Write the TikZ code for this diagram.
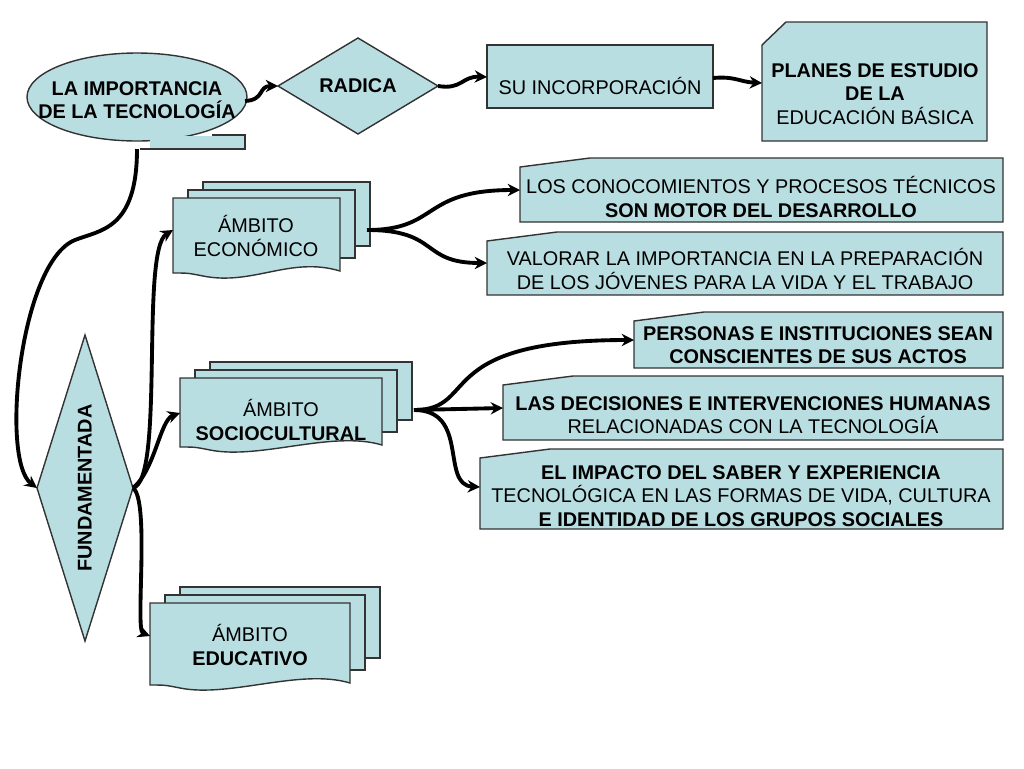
\documentclass[tikz,border=0pt]{standalone}
\usepackage{fontspec}
\setmainfont{Liberation Sans}
\usetikzlibrary{arrows.meta}
\definecolor{boxfill}{RGB}{185,222,226}
\tikzset{
  shp/.style={draw=black!80,fill=boxfill,line width=0.8pt},
  txt/.style={align=center,font=\fontsize{11.3}{13.2}\selectfont,inner sep=0pt},
  btxt/.style={txt,font=\fontsize{11.3}{13.2}\selectfont\bfseries},
  conn/.style={line width=2.2pt,-{Stealth[length=7pt,width=7pt]}}
}
% manual input box: x1,y1,x2,y2
\newcommand{\manbox}[4]{\draw[shp] (#1,#2+9) -- (#1+70,#2) -- (#3,#2) -- (#3,#4) -- (#1,#4) -- cycle;}
% stacked documents: x1,y1,x2,y2 of front
\newcommand{\docstack}[4]{
  \draw[shp] (#1+30,#2-16) rectangle (#3+30,#4-30);
  \draw[shp] (#1+15,#2-8) rectangle (#3+15,#4-18);
  \draw[shp] (#1,#2) -- (#3,#2) -- (#3,#4-5) .. controls (#3-50,#4-20) and (#1+80,#4+10) .. (#1+30,#4) .. controls (#1+15,#4-3) .. (#1,#4-3) -- cycle;}
\begin{document}
\begin{tikzpicture}[x=0.02cm,y=-0.02cm]
  \useasboundingbox (0,0) rectangle (1024,768);
  % top row
  \draw[shp] (137,97) ellipse (110 and 44);
  \fill[boxfill] (150,136) rectangle (244.6,148.6);
  \draw[black!80,line width=0.8pt] (212,135) -- (245,135) -- (245,149) -- (140,149);
  \node[btxt] (imp) at (137,100) {LA IMPORTANCIA\\DE LA TECNOLOGÍA};
  \coordinate (impR) at (245,101);
  \coordinate (impB) at (137,149);
  \draw[shp] (278,86) -- (358,38) -- (438,86) -- (358,134) -- cycle;
  \node[btxt] (rad) at (358,86) {RADICA};
  \coordinate (radL) at (278,86);
  \coordinate (radR) at (438,86);
  \draw[shp] (487,45) rectangle (713,108);
  \node[txt] (inc) at (600,86) {SU INCORPORACIÓN};
  \draw[shp] (762,45) -- (786,22) -- (987,22) -- (987,141) -- (762,141) -- cycle;
  \node[txt] (pla) at (875,94) {\textbf{PLANES DE ESTUDIO}\\\textbf{DE LA}\\EDUCACIÓN BÁSICA};
  % left column
  \draw[shp] (85,335) -- (133,488) -- (85,641) -- (37,488) -- cycle;
  \node[btxt,rotate=90] (fun) at (85,488) {FUNDAMENTADA};
  \coordinate (funL) at (37,488);
  \coordinate (funR) at (133,488);
  \docstack{173}{198}{340}{276}
  \node[txt] (eco) at (256,236) {ÁMBITO\\ECONÓMICO};
  \docstack{180}{378}{382}{450}
  \node[txt] (soc) at (281,420) {ÁMBITO\\\textbf{SOCIOCULTURAL}};
  \docstack{150}{603}{350}{688}
  \node[txt] (edu) at (250,645) {ÁMBITO\\\textbf{EDUCATIVO}};
  % right boxes
  \manbox{520}{158}{1003}{222}
  \node[txt] (b1) at (761,197) {LOS CONOCOMIENTOS Y PROCESOS TÉCNICOS\\\textbf{SON MOTOR DEL DESARROLLO}};
  \manbox{487}{232}{1003}{295}
  \node[txt] (b2) at (745,269) {VALORAR LA IMPORTANCIA EN LA PREPARACIÓN\\DE LOS JÓVENES PARA LA VIDA Y EL TRABAJO};
  \manbox{634}{312}{1003}{368}
  \node[btxt] (b3) at (818,345) {PERSONAS E INSTITUCIONES SEAN\\CONSCIENTES DE SUS ACTOS};
  \manbox{503}{376}{1003}{440}
  \node[txt] (b4) at (753,415) {\textbf{LAS DECISIONES E INTERVENCIONES HUMANAS}\\RELACIONADAS CON LA TECNOLOGÍA};
  \manbox{480}{449}{1003}{529}
  \node[txt] (b5) at (741,496) {\textbf{EL IMPACTO DEL SABER Y EXPERIENCIA}\\TECNOLÓGICA EN LAS FORMAS DE VIDA, CULTURA\\\textbf{E IDENTIDAD DE LOS GRUPOS SOCIALES}};
  \coordinate (ecoR) at (367,230);
  \coordinate (socR) at (414,410);
  % connectors
  \draw[conn] (impR) .. controls (265,100) and (258,86) .. (radL);
  \draw[conn] (radR) .. controls (462,90) and (462,76) .. (487,77);
  \draw[conn] (713,78) .. controls (735,76) and (740,82) .. (762,83);
  \draw[conn] (impB) .. controls (137,230) and (100,230) .. (75,240) .. controls (20,262) and (0,460) .. (funL);
  \draw[conn] (funR) .. controls (165,480) and (140,250) .. (173,230);
  \draw[conn] (funR) .. controls (155,470) and (160,420) .. (180,413);
  \draw[conn] (funR) .. controls (150,500) and (135,630) .. (150,636);
  \draw[conn] (ecoR) .. controls (440,230) and (420,190) .. (520,190);
  \draw[conn] (ecoR) .. controls (440,230) and (420,263) .. (487,263);
  \draw[conn] (socR) .. controls (480,410) and (430,340) .. (634,340);
  \draw[conn] (socR) -- (503,408);
  \draw[conn] (socR) .. controls (470,410) and (440,485) .. (480,487);
\end{tikzpicture}
\end{document}
